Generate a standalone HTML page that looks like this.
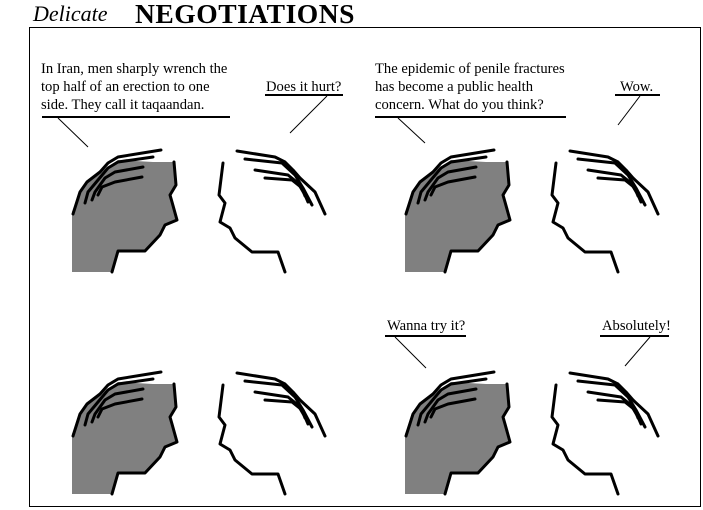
<!DOCTYPE html>
<html><head><style>
html,body{margin:0;padding:0;background:#fff;}
svg{display:block;}
text{font-family:"Liberation Serif",serif;font-size:14.6px;fill:#000;}
</style></head><body>
<svg width="703" height="510" viewBox="0 0 703 510" xmlns="http://www.w3.org/2000/svg">
<defs>
<g id="pair">
  <polygon points="72,272 112,272 118,251 145,251 160,235 165,225 177,220 172,202 170,195 176,185 174,162 153,162 118,160 100,172 87,182 80,192 72,212" fill="#808080"/>
  <g fill="none" stroke="#000" stroke-width="3" stroke-linejoin="round" stroke-linecap="round">
    <polyline points="174,162 176,185 170,195 172,202 177,220 165,225 160,235 145,251 118,251 112,272"/>
    <polyline points="161,150 118,157 108,163 100,172 87,182 80,192 73,214"/>
    <polyline points="153,157 118,162 108,168 98,180 88,192 85,203"/>
    <polyline points="143,167 115,172 105,178 95,192 92,200"/>
    <polyline points="142,177 115,182 102,187 98,195"/>
    <polyline points="223,163 219,195 225,203 220,222 230,228 235,238 252,252 278,252 285,272"/>
    <polyline points="237,151 275,157 285,162 293,170 300,178 315,192 325,214"/>
    <polyline points="245,159 282,163 295,175 303,188 312,205"/>
    <polyline points="255,170 288,175 298,183 305,195 308,202"/>
    <polyline points="265,178 292,180 302,188 305,196"/>
  </g>
</g>
</defs>
<rect x="29.5" y="27.5" width="671" height="479" fill="none" stroke="#000" stroke-width="1"/>
<text x="33" y="21" style="font-family:'Liberation Serif',serif;font-style:italic;font-size:22px;">Delicate</text>
<text x="135" y="23" style="font-family:'Liberation Serif',serif;font-weight:bold;font-size:27px;letter-spacing:0.5px" textLength="220" lengthAdjust="spacingAndGlyphs">NEGOTIATIONS</text>
<use href="#pair"/>
<use href="#pair" transform="translate(333,0)"/>
<use href="#pair" transform="translate(0,222)"/>
<use href="#pair" transform="translate(333,222)"/>
<g stroke="#000" fill="none">
  <line x1="42" y1="117" x2="230" y2="117" stroke-width="2"/>
  <line x1="58" y1="118" x2="88" y2="147"/>
  <line x1="265" y1="95" x2="343" y2="95" stroke-width="2"/>
  <line x1="327" y1="96" x2="290" y2="133"/>
  <line x1="375" y1="117" x2="566" y2="117" stroke-width="2"/>
  <line x1="398" y1="118" x2="425" y2="143"/>
  <line x1="615" y1="95" x2="660" y2="95" stroke-width="2"/>
  <line x1="640" y1="96" x2="618" y2="125"/>
  <line x1="385" y1="336" x2="466" y2="336" stroke-width="2"/>
  <line x1="395" y1="337" x2="426" y2="368"/>
  <line x1="600" y1="336" x2="669" y2="336" stroke-width="2"/>
  <line x1="650" y1="337" x2="625" y2="366"/>
</g>
<text x="41" y="73">In Iran, men sharply wrench the</text>
<text x="41" y="91">top half of an erection to one</text>
<text x="41" y="109">side. They call it taqaandan.</text>
<text x="266" y="91">Does it hurt?</text>
<text x="375" y="73">The epidemic of penile fractures</text>
<text x="375" y="91">has become a public health</text>
<text x="375" y="109">concern. What do you think?</text>
<text x="620" y="91">Wow.</text>
<text x="387" y="330">Wanna try it?</text>
<text x="602" y="330">Absolutely!</text>
</svg>
</body></html>
